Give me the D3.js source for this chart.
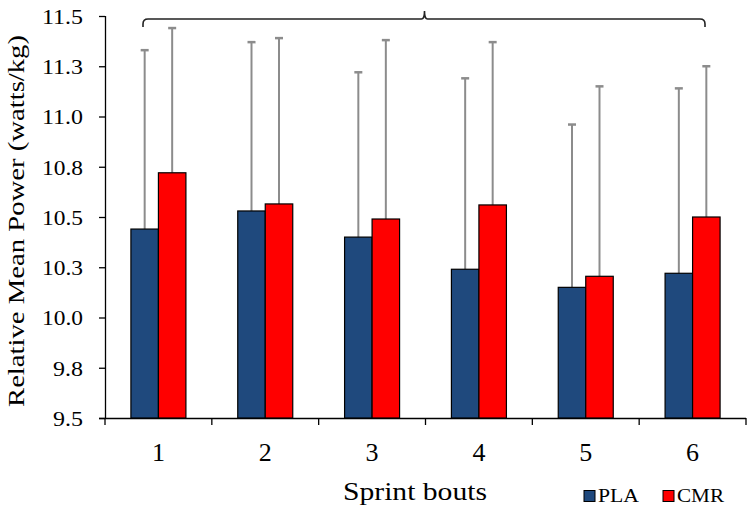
<!DOCTYPE html>
<html><head><meta charset="utf-8">
<script src="https://cdn.jsdelivr.net/npm/d3@7"></script>
<style>
body{margin:0;background:#fff;}
text{font-family:"Liberation Serif","DejaVu Serif",serif;fill:#000;}
</style></head>
<body><svg id="c" width="754" height="514"></svg>
<script>
const categories = ["1","2","3","4","5","6"];
const series = ["PLA","CMR"];
const plaMean = [10.44, 10.53, 10.40, 10.24, 10.15, 10.22];
const cmrMean = [10.72, 10.565, 10.49, 10.56, 10.205, 10.50];
const plaErrTop = [11.33, 11.37, 11.22, 11.19, 10.96, 11.14];
const cmrErrTop = [11.44, 11.39, 11.38, 11.37, 11.15, 11.25];
const yTicks = [9.5, 9.75, 10.0, 10.25, 10.5, 10.75, 11.0, 11.25, 11.5];
const yTickLabels = ["9.5","9.8","10.0","10.3","10.5","10.8","11.0","11.3","11.5"];
const colors = {PLA:"#1F497D", CMR:"#FF0000"};

(function(){
const FONT = '"Liberation Serif","DejaVu Serif",serif';
const svg = d3.select("#c");
const mL = 105, mR = 746, mT = 16, mB = 418;
const x = d3.scaleBand().domain(categories).range([mL, mR]);
const y = d3.scaleLinear().domain([9.5, 11.5]).range([mB, mT]);
const barW = 27.5;

// axes
const yAxis = svg.append("g").attr("transform", `translate(${mL},0)`)
  .call(d3.axisLeft(y).tickValues(yTicks).tickFormat((d,i)=>yTickLabels[i]).tickSize(6).tickSizeOuter(0).tickPadding(16));
yAxis.attr("font-family", FONT);
yAxis.select(".domain").attr("stroke","#000").attr("stroke-width",1.3).attr("d",`M0.5,${mT}V${mB}`);
yAxis.selectAll(".tick line").attr("stroke","#000").attr("stroke-width",1.3);
yAxis.selectAll(".tick text").style("font-size","22px").attr("dy","0.34em")
  .attr("textLength", function(){ return this.textContent.length===3 ? 30 : 41; })
  .attr("lengthAdjust","spacingAndGlyphs");

const xAxis = svg.append("g").attr("transform", `translate(0,${mB})`)
  .call(d3.axisBottom(x).tickSize(0).tickPadding(25));
xAxis.attr("font-family", FONT);
xAxis.select(".domain").attr("stroke","#000").attr("stroke-width",1.3).attr("d",`M${mL-6},0.5H${mR}`);
xAxis.selectAll(".tick text").style("font-size","26px");
const bounds = categories.map(c=>x(c)).concat([x(categories[5])+x.bandwidth()]);
svg.append("g").selectAll("line").data(bounds).join("line")
  .attr("x1",d=>d).attr("x2",d=>d).attr("y1",mB).attr("y2",mB+7)
  .attr("stroke","#000").attr("stroke-width",1.3);

// bars
const data = categories.map((c,i)=>({c, vals:[
  {s:"PLA", v:plaMean[i], e:plaErrTop[i]},
  {s:"CMR", v:cmrMean[i], e:cmrErrTop[i]}]}));
const g = svg.append("g");
data.forEach(d=>{
  const cx = x(d.c) + x.bandwidth()/2;
  d.vals.forEach((b,j)=>{
    const bx = cx - barW + j*barW;
    const mid = bx + barW/2;
    g.append("line").attr("x1",mid).attr("x2",mid).attr("y1",y(b.v)).attr("y2",y(b.e))
      .attr("stroke","#8c8c8c").attr("stroke-width",2);
    g.append("line").attr("x1",mid-4).attr("x2",mid+4).attr("y1",y(b.e)).attr("y2",y(b.e))
      .attr("stroke","#8c8c8c").attr("stroke-width",2.5);
  });
  d.vals.forEach((b,j)=>{
    const bx = cx - barW + j*barW;
    g.append("rect").attr("x",bx).attr("y",y(b.v)).attr("width",barW).attr("height",y(9.5)-y(b.v))
      .attr("fill",colors[b.s]).attr("stroke","#000").attr("stroke-width",1.2);
  });
});

// bracket
const bx1 = 143, bx2 = 705, bmid = 424.5, by = 19;
svg.append("path")
  .attr("d",`M${bx1},27 L${bx1},${by+5} Q${bx1},${by} ${bx1+5},${by} L${bmid-3},${by} Q${bmid},${by} ${bmid},${by-8} Q${bmid},${by} ${bmid+3},${by} L${bx2-5},${by} Q${bx2},${by} ${bx2},${by+5} L${bx2},27`)
  .attr("fill","none").attr("stroke","#222").attr("stroke-width",1.6);

// axis titles
svg.append("text").attr("transform","translate(24,221) rotate(-90)")
  .attr("text-anchor","middle").style("font-size","23px")
  .attr("textLength",372).attr("lengthAdjust","spacingAndGlyphs")
  .text("Relative Mean Power (watts/kg)");
svg.append("text").attr("x",415).attr("y",500).attr("text-anchor","middle")
  .style("font-size","25px").attr("textLength",144).attr("lengthAdjust","spacingAndGlyphs")
  .text("Sprint bouts");

// legend
const leg = svg.append("g");
const legItems = [{s:"PLA",x:584,w:41},{s:"CMR",x:663,w:47}];
legItems.forEach(it=>{
  leg.append("rect").attr("x",it.x).attr("y",490.5).attr("width",11).attr("height",11)
    .attr("fill",colors[it.s]).attr("stroke","#000").attr("stroke-width",1);
  leg.append("text").attr("x",it.x+14).attr("y",502).style("font-size","18px")
    .attr("textLength",it.w).attr("lengthAdjust","spacingAndGlyphs").text(it.s);
});
})();
</script></body></html>
